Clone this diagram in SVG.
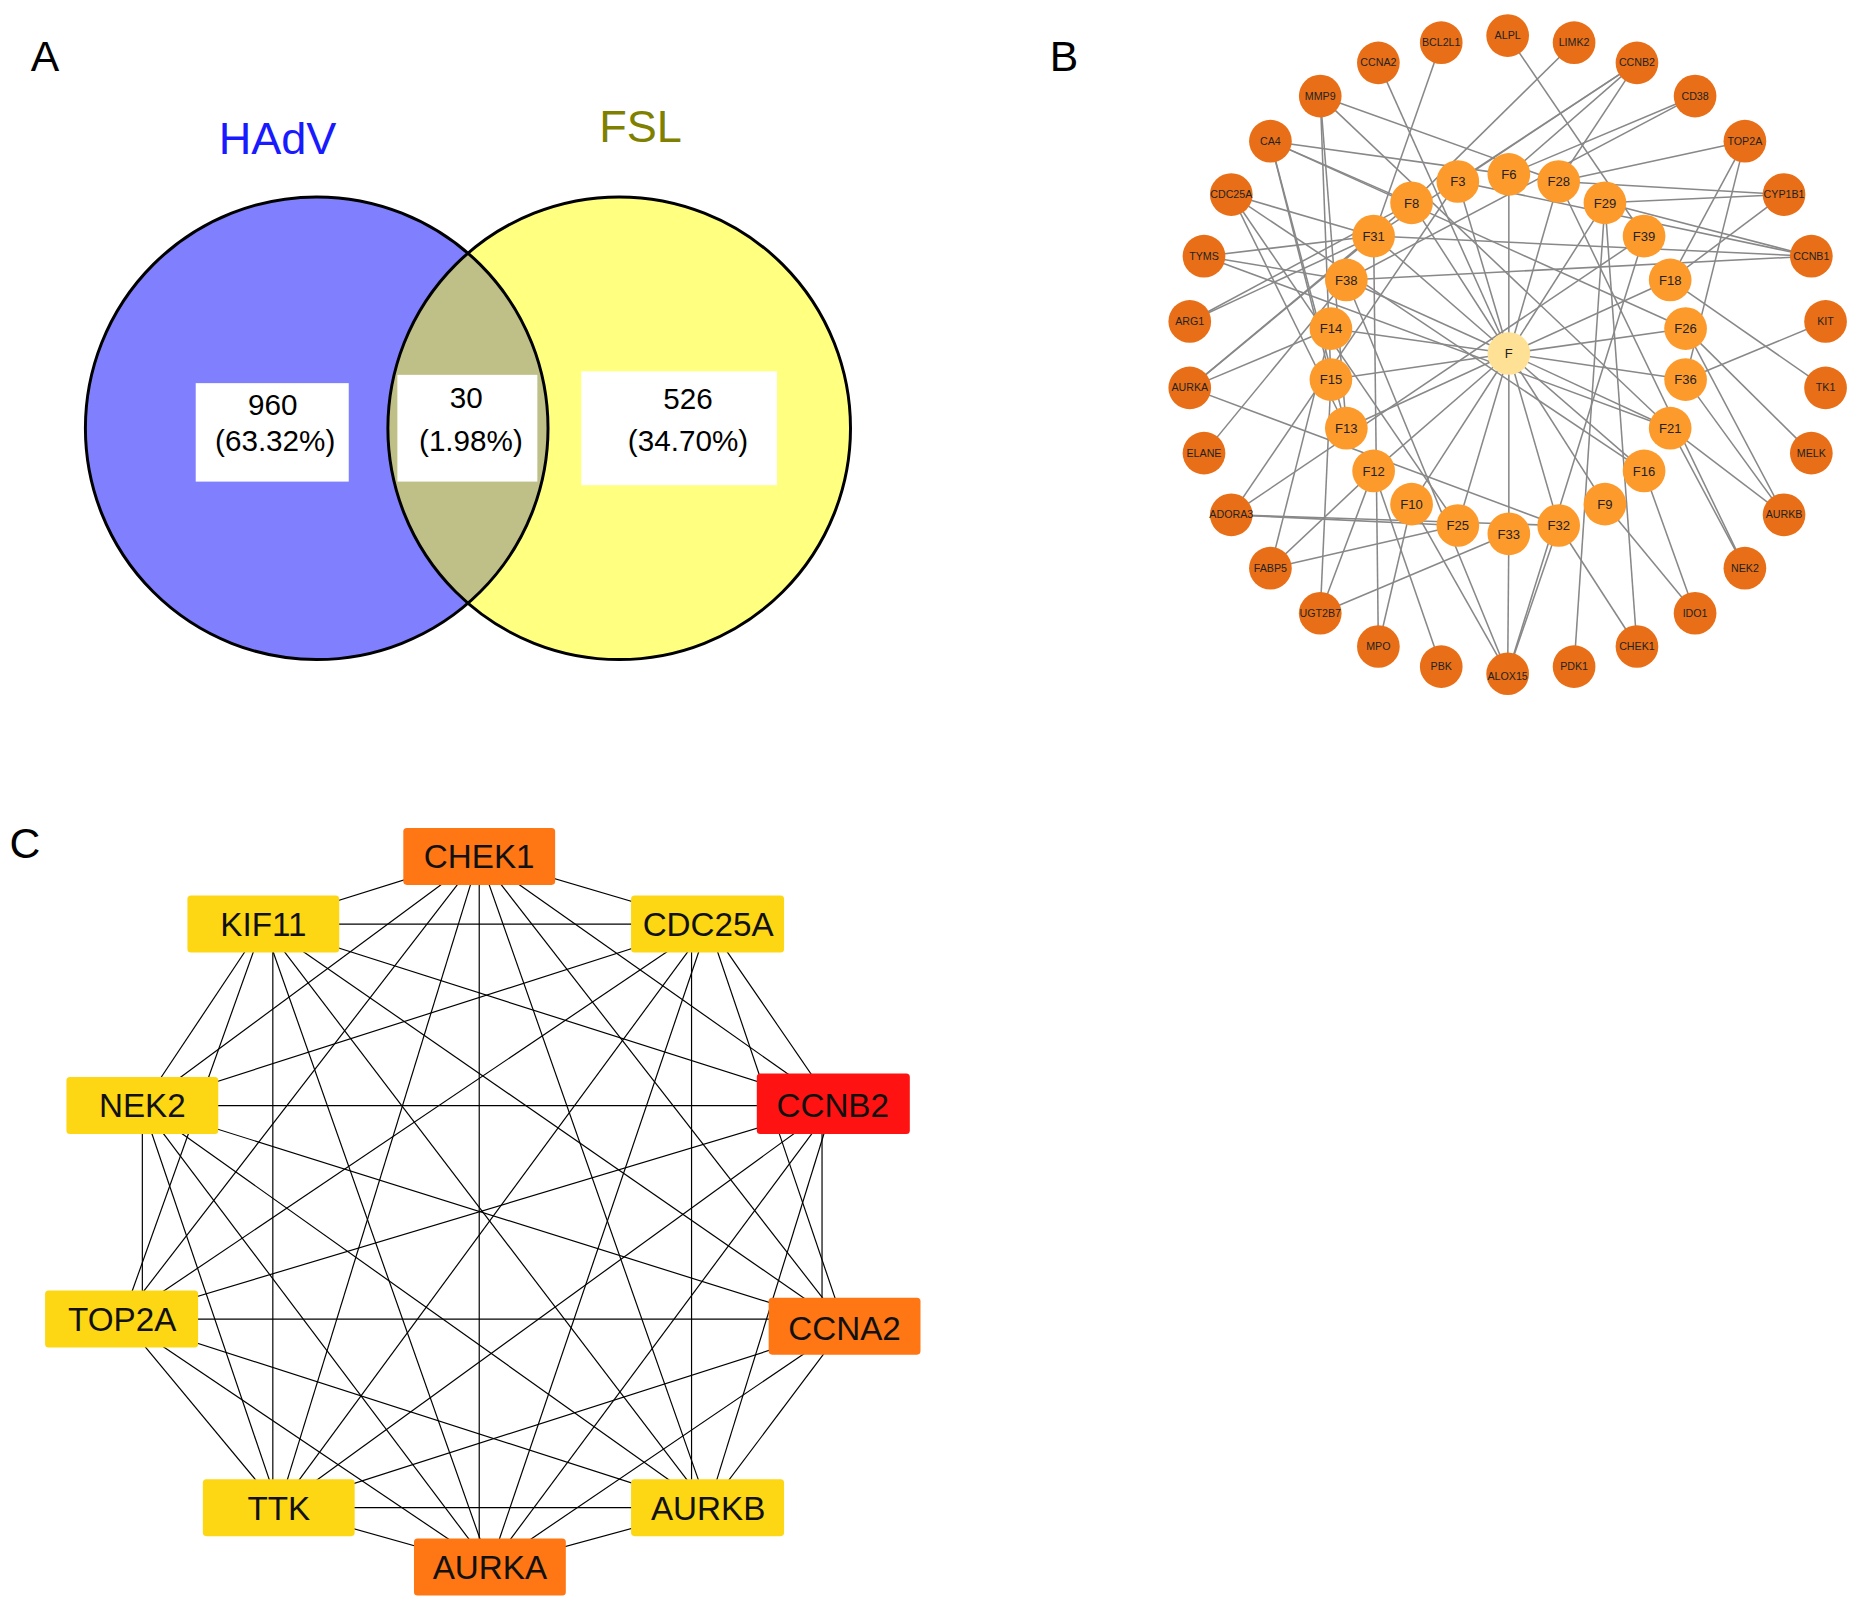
<svg xmlns="http://www.w3.org/2000/svg" width="1860" height="1608" viewBox="0 0 1860 1608">
<style>
text{font-family:"Liberation Sans",Arial,sans-serif}
.lbl{font-size:36px}
.bl line{stroke:#888;stroke-width:1.3}
.o circle{fill:#e86f17}
.i circle{fill:#fd9a2c}
.o text{font-size:9px;text-anchor:middle;fill:#222}
.i text{font-size:11px;text-anchor:middle;fill:#222}
.cl line{stroke:#000;stroke-width:1}
.bx text{font-size:28px;text-anchor:middle;fill:#111}
.y{fill:#fdd714}.r{fill:#ff1212}.or{fill:#ff7614}
</style>
<defs><clipPath id="cr"><circle cx="522" cy="361" r="195"/></clipPath></defs>
<rect width="1860" height="1608" fill="#fff"/>
<g transform="scale(1.1862)">
<g id="venn">
<circle cx="267" cy="361" r="195" fill="#8080ff"/>
<circle cx="522" cy="361" r="195" fill="#ffff80"/>
<circle cx="267" cy="361" r="195" fill="#bfbf88" clip-path="url(#cr)"/>
<circle cx="267" cy="361" r="195" fill="none" stroke="#000" stroke-width="2.5"/>
<circle cx="522" cy="361" r="195" fill="none" stroke="#000" stroke-width="2.5"/>
<text x="234" y="130" font-size="38" fill="#1a1aff" text-anchor="middle">HAdV</text>
<text x="540" y="120" font-size="38" fill="#808000" text-anchor="middle">FSL</text>
<rect x="165" y="323" width="129" height="83" fill="#fff"/>
<text x="230" y="350" font-size="25" text-anchor="middle">960</text>
<text x="232" y="380" font-size="25" text-anchor="middle">(63.32%)</text>
<rect x="335" y="316" width="118" height="90" fill="#fff"/>
<text x="393" y="344" font-size="25" text-anchor="middle">30</text>
<text x="397" y="380" font-size="25" text-anchor="middle">(1.98%)</text>
<rect x="490" y="313" width="165" height="96" fill="#fff"/>
<text x="580" y="345" font-size="25" text-anchor="middle">526</text>
<text x="580" y="380" font-size="25" text-anchor="middle">(34.70%)</text>
</g>
<text class="lbl" x="26" y="60">A</text>
<text class="lbl" x="885" y="60">B</text>
<text class="lbl" x="8" y="723">C</text>
<g id="b-edges" class="bl">
<line x1="1272" y1="298" x2="1229" y2="153"/><line x1="1272" y1="298" x2="1272" y2="147"/><line x1="1272" y1="298" x2="1314" y2="153"/><line x1="1272" y1="298" x2="1353" y2="171"/><line x1="1272" y1="298" x2="1408" y2="236"/><line x1="1272" y1="298" x2="1421" y2="277"/><line x1="1272" y1="298" x2="1421" y2="320"/><line x1="1272" y1="298" x2="1408" y2="361"/><line x1="1272" y1="298" x2="1386" y2="397"/><line x1="1272" y1="298" x2="1353" y2="425"/><line x1="1272" y1="298" x2="1314" y2="443"/><line x1="1272" y1="298" x2="1272" y2="450"/><line x1="1272" y1="298" x2="1229" y2="443"/><line x1="1272" y1="298" x2="1190" y2="425"/><line x1="1272" y1="298" x2="1158" y2="397"/><line x1="1272" y1="298" x2="1135" y2="361"/><line x1="1272" y1="298" x2="1122" y2="320"/><line x1="1272" y1="298" x2="1122" y2="277"/><line x1="1272" y1="298" x2="1135" y2="236"/><line x1="1272" y1="298" x2="1158" y2="199"/><line x1="1272" y1="298" x2="1190" y2="171"/>
<line x1="1162" y1="53" x2="1272" y2="298"/><line x1="1215" y1="36" x2="1158" y2="199"/><line x1="1271" y1="30" x2="1386" y2="199"/><line x1="1327" y1="36" x2="1190" y2="171"/>
<line x1="1380" y1="53" x2="1229" y2="153"/><line x1="1380" y1="53" x2="1272" y2="147"/><line x1="1380" y1="53" x2="1158" y2="199"/><line x1="1380" y1="53" x2="1314" y2="153"/>
<line x1="1429" y1="81" x2="1272" y2="147"/><line x1="1429" y1="81" x2="1135" y2="236"/>
<line x1="1471" y1="119" x2="1314" y2="153"/><line x1="1471" y1="119" x2="1421" y2="320"/><line x1="1471" y1="119" x2="1408" y2="236"/>
<line x1="1504" y1="164" x2="1314" y2="153"/><line x1="1504" y1="164" x2="1353" y2="171"/><line x1="1504" y1="164" x2="1408" y2="236"/>
<line x1="1527" y1="216" x2="1353" y2="171"/><line x1="1527" y1="216" x2="1158" y2="199"/><line x1="1527" y1="216" x2="1135" y2="236"/><line x1="1527" y1="216" x2="1229" y2="153"/>
<line x1="1539" y1="271" x2="1421" y2="320"/><line x1="1539" y1="327" x2="1408" y2="236"/><line x1="1527" y1="382" x2="1421" y2="277"/>
<line x1="1504" y1="434" x2="1421" y2="320"/><line x1="1504" y1="434" x2="1421" y2="277"/><line x1="1504" y1="434" x2="1408" y2="361"/>
<line x1="1471" y1="479" x2="1408" y2="361"/><line x1="1471" y1="479" x2="1314" y2="153"/>
<line x1="1429" y1="517" x2="1353" y2="425"/><line x1="1429" y1="517" x2="1386" y2="397"/>
<line x1="1380" y1="545" x2="1353" y2="171"/><line x1="1380" y1="545" x2="1314" y2="443"/><line x1="1327" y1="562" x2="1353" y2="171"/>
<line x1="1271" y1="568" x2="1272" y2="450"/><line x1="1271" y1="568" x2="1190" y2="425"/><line x1="1271" y1="568" x2="1314" y2="443"/><line x1="1271" y1="568" x2="1135" y2="236"/><line x1="1271" y1="568" x2="1386" y2="199"/>
<line x1="1215" y1="562" x2="1158" y2="397"/><line x1="1162" y1="545" x2="1158" y2="199"/><line x1="1162" y1="545" x2="1190" y2="425"/>
<line x1="1113" y1="517" x2="1272" y2="450"/><line x1="1113" y1="517" x2="1122" y2="320"/><line x1="1113" y1="517" x2="1158" y2="397"/>
<line x1="1071" y1="479" x2="1229" y2="443"/><line x1="1071" y1="479" x2="1122" y2="277"/><line x1="1071" y1="479" x2="1158" y2="397"/>
<line x1="1038" y1="434" x2="1314" y2="443"/><line x1="1038" y1="434" x2="1229" y2="153"/><line x1="1038" y1="434" x2="1386" y2="199"/><line x1="1038" y1="434" x2="1229" y2="443"/>
<line x1="1015" y1="382" x2="1135" y2="236"/>
<line x1="1003" y1="327" x2="1190" y2="171"/><line x1="1003" y1="327" x2="1158" y2="199"/><line x1="1003" y1="327" x2="1122" y2="277"/><line x1="1003" y1="327" x2="1314" y2="443"/>
<line x1="1003" y1="271" x2="1190" y2="171"/><line x1="1003" y1="271" x2="1158" y2="199"/>
<line x1="1015" y1="216" x2="1158" y2="199"/><line x1="1015" y1="216" x2="1135" y2="236"/><line x1="1015" y1="216" x2="1408" y2="361"/>
<line x1="1038" y1="164" x2="1386" y2="397"/><line x1="1038" y1="164" x2="1229" y2="443"/><line x1="1038" y1="164" x2="1135" y2="361"/><line x1="1038" y1="164" x2="1158" y2="199"/>
<line x1="1071" y1="119" x2="1272" y2="147"/><line x1="1071" y1="119" x2="1190" y2="171"/><line x1="1071" y1="119" x2="1135" y2="361"/><line x1="1071" y1="119" x2="1122" y2="320"/><line x1="1071" y1="119" x2="1421" y2="277"/>
<line x1="1113" y1="81" x2="1408" y2="361"/><line x1="1113" y1="81" x2="1122" y2="320"/><line x1="1113" y1="81" x2="1314" y2="153"/><line x1="1113" y1="81" x2="1135" y2="361"/>
</g>
<g id="b-outer" class="o">
<g id="n-ALPL"><circle cx="1271" cy="30" r="18"/><text x="1271" y="33">ALPL</text></g>
<g id="n-LIMK2"><circle cx="1327" cy="36" r="18"/><text x="1327" y="39">LIMK2</text></g>
<g id="n-CCNB2"><circle cx="1380" cy="53" r="18"/><text x="1380" y="56">CCNB2</text></g>
<g id="n-CD38"><circle cx="1429" cy="81" r="18"/><text x="1429" y="84">CD38</text></g>
<g id="n-TOP2A"><circle cx="1471" cy="119" r="18"/><text x="1471" y="122">TOP2A</text></g>
<g id="n-CYP1B1"><circle cx="1504" cy="164" r="18"/><text x="1504" y="167">CYP1B1</text></g>
<g id="n-CCNB1"><circle cx="1527" cy="216" r="18"/><text x="1527" y="219">CCNB1</text></g>
<g id="n-KIT"><circle cx="1539" cy="271" r="18"/><text x="1539" y="274">KIT</text></g>
<g id="n-TK1"><circle cx="1539" cy="327" r="18"/><text x="1539" y="330">TK1</text></g>
<g id="n-MELK"><circle cx="1527" cy="382" r="18"/><text x="1527" y="385">MELK</text></g>
<g id="n-AURKB"><circle cx="1504" cy="434" r="18"/><text x="1504" y="437">AURKB</text></g>
<g id="n-NEK2"><circle cx="1471" cy="479" r="18"/><text x="1471" y="482">NEK2</text></g>
<g id="n-IDO1"><circle cx="1429" cy="517" r="18"/><text x="1429" y="520">IDO1</text></g>
<g id="n-CHEK1"><circle cx="1380" cy="545" r="18"/><text x="1380" y="548">CHEK1</text></g>
<g id="n-PDK1"><circle cx="1327" cy="562" r="18"/><text x="1327" y="565">PDK1</text></g>
<g id="n-ALOX15"><circle cx="1271" cy="568" r="18"/><text x="1271" y="573">ALOX15</text></g>
<g id="n-PBK"><circle cx="1215" cy="562" r="18"/><text x="1215" y="565">PBK</text></g>
<g id="n-MPO"><circle cx="1162" cy="545" r="18"/><text x="1162" y="548">MPO</text></g>
<g id="n-UGT2B7"><circle cx="1113" cy="517" r="18"/><text x="1113" y="520">UGT2B7</text></g>
<g id="n-FABP5"><circle cx="1071" cy="479" r="18"/><text x="1071" y="482">FABP5</text></g>
<g id="n-ADORA3"><circle cx="1038" cy="434" r="18"/><text x="1038" y="437">ADORA3</text></g>
<g id="n-ELANE"><circle cx="1015" cy="382" r="18"/><text x="1015" y="385">ELANE</text></g>
<g id="n-AURKA"><circle cx="1003" cy="327" r="18"/><text x="1003" y="330">AURKA</text></g>
<g id="n-ARG1"><circle cx="1003" cy="271" r="18"/><text x="1003" y="274">ARG1</text></g>
<g id="n-TYMS"><circle cx="1015" cy="216" r="18"/><text x="1015" y="219">TYMS</text></g>
<g id="n-CDC25A"><circle cx="1038" cy="164" r="18"/><text x="1038" y="167">CDC25A</text></g>
<g id="n-CA4"><circle cx="1071" cy="119" r="18"/><text x="1071" y="122">CA4</text></g>
<g id="n-MMP9"><circle cx="1113" cy="81" r="18"/><text x="1113" y="84">MMP9</text></g>
<g id="n-CCNA2"><circle cx="1162" cy="53" r="18"/><text x="1162" y="56">CCNA2</text></g>
<g id="n-BCL2L1"><circle cx="1215" cy="36" r="18"/><text x="1215" y="39">BCL2L1</text></g>
</g>
<g id="b-inner" class="i">
<g id="n-F3"><circle cx="1229" cy="153" r="18"/><text x="1229" y="157">F3</text></g>
<g id="n-F6"><circle cx="1272" cy="147" r="18"/><text x="1272" y="151">F6</text></g>
<g id="n-F28"><circle cx="1314" cy="153" r="18"/><text x="1314" y="157">F28</text></g>
<g id="n-F29"><circle cx="1353" cy="171" r="18"/><text x="1353" y="175">F29</text></g>
<g id="n-F39"><circle cx="1386" cy="199" r="18"/><text x="1386" y="203">F39</text></g>
<g id="n-F18"><circle cx="1408" cy="236" r="18"/><text x="1408" y="240">F18</text></g>
<g id="n-F26"><circle cx="1421" cy="277" r="18"/><text x="1421" y="281">F26</text></g>
<g id="n-F36"><circle cx="1421" cy="320" r="18"/><text x="1421" y="324">F36</text></g>
<g id="n-F21"><circle cx="1408" cy="361" r="18"/><text x="1408" y="365">F21</text></g>
<g id="n-F16"><circle cx="1386" cy="397" r="18"/><text x="1386" y="401">F16</text></g>
<g id="n-F9"><circle cx="1353" cy="425" r="18"/><text x="1353" y="429">F9</text></g>
<g id="n-F32"><circle cx="1314" cy="443" r="18"/><text x="1314" y="447">F32</text></g>
<g id="n-F33"><circle cx="1272" cy="450" r="18"/><text x="1272" y="454">F33</text></g>
<g id="n-F25"><circle cx="1229" cy="443" r="18"/><text x="1229" y="447">F25</text></g>
<g id="n-F10"><circle cx="1190" cy="425" r="18"/><text x="1190" y="429">F10</text></g>
<g id="n-F12"><circle cx="1158" cy="397" r="18"/><text x="1158" y="401">F12</text></g>
<g id="n-F13"><circle cx="1135" cy="361" r="18"/><text x="1135" y="365">F13</text></g>
<g id="n-F15"><circle cx="1122" cy="320" r="18"/><text x="1122" y="324">F15</text></g>
<g id="n-F14"><circle cx="1122" cy="277" r="18"/><text x="1122" y="281">F14</text></g>
<g id="n-F38"><circle cx="1135" cy="236" r="18"/><text x="1135" y="240">F38</text></g>
<g id="n-F31"><circle cx="1158" cy="199" r="18"/><text x="1158" y="203">F31</text></g>
<g id="n-F8"><circle cx="1190" cy="171" r="18"/><text x="1190" y="175">F8</text></g>
<g id="n-F"><circle cx="1272" cy="298" r="18" style="fill:#ffe196"/><text x="1272" y="302">F</text></g>
</g>
<g id="c-edges" class="cl">
<line x1="404" y1="722" x2="222" y2="779"/><line x1="404" y1="722" x2="597" y2="779"/><line x1="404" y1="722" x2="120" y2="932"/><line x1="404" y1="722" x2="702" y2="932"/><line x1="404" y1="722" x2="103" y2="1112"/><line x1="404" y1="722" x2="712" y2="1118"/><line x1="404" y1="722" x2="235" y2="1271"/><line x1="404" y1="722" x2="597" y2="1271"/><line x1="404" y1="722" x2="404" y2="1321"/>
<line x1="222" y1="779" x2="597" y2="779"/><line x1="222" y1="779" x2="120" y2="932"/><line x1="222" y1="779" x2="702" y2="932"/><line x1="222" y1="779" x2="103" y2="1112"/><line x1="222" y1="779" x2="712" y2="1118"/><line x1="230" y1="779" x2="230" y2="1271"/><line x1="222" y1="779" x2="597" y2="1271"/><line x1="222" y1="779" x2="413" y2="1321"/>
<line x1="597" y1="779" x2="120" y2="932"/><line x1="597" y1="779" x2="702" y2="932"/><line x1="597" y1="779" x2="103" y2="1112"/><line x1="597" y1="779" x2="712" y2="1118"/><line x1="597" y1="779" x2="235" y2="1271"/><line x1="583" y1="779" x2="583" y2="1271"/><line x1="597" y1="779" x2="413" y2="1321"/>
<line x1="120" y1="932" x2="702" y2="932"/><line x1="120" y1="932" x2="120" y2="1112"/><line x1="120" y1="932" x2="712" y2="1118"/><line x1="120" y1="932" x2="235" y2="1271"/><line x1="120" y1="932" x2="597" y2="1271"/><line x1="120" y1="932" x2="413" y2="1321"/>
<line x1="702" y1="932" x2="103" y2="1112"/><line x1="693" y1="932" x2="693" y2="1118"/><line x1="702" y1="932" x2="235" y2="1271"/><line x1="702" y1="932" x2="597" y2="1271"/><line x1="702" y1="932" x2="413" y2="1321"/>
<line x1="103" y1="1112" x2="712" y2="1112"/><line x1="103" y1="1112" x2="235" y2="1271"/><line x1="103" y1="1112" x2="597" y2="1271"/><line x1="103" y1="1112" x2="413" y2="1321"/>
<line x1="712" y1="1118" x2="235" y2="1271"/><line x1="712" y1="1118" x2="597" y2="1271"/><line x1="712" y1="1118" x2="413" y2="1321"/>
<line x1="235" y1="1271" x2="597" y2="1271"/><line x1="235" y1="1271" x2="413" y2="1321"/><line x1="597" y1="1271" x2="413" y2="1321"/>
</g>
<g class="bx">
<g id="c-CHEK1"><rect class="or" x="340" y="698" width="128" height="48" rx="3"/><text x="404" y="732">CHEK1</text></g>
<g id="c-KIF11"><rect class="y" x="158" y="755" width="128" height="48" rx="3"/><text x="222" y="789">KIF11</text></g>
<g id="c-CDC25A"><rect class="y" x="532" y="755" width="129" height="48" rx="3"/><text x="597" y="789">CDC25A</text></g>
<g id="c-NEK2"><rect class="y" x="56" y="908" width="128" height="48" rx="3"/><text x="120" y="942">NEK2</text></g>
<g id="c-CCNB2"><rect class="r" x="638" y="905" width="129" height="51" rx="3"/><text x="702" y="942">CCNB2</text></g>
<g id="c-TOP2A"><rect class="y" x="38" y="1088" width="129" height="48" rx="3"/><text x="103" y="1122">TOP2A</text></g>
<g id="c-CCNA2"><rect class="or" x="648" y="1094" width="128" height="48" rx="3"/><text x="712" y="1130">CCNA2</text></g>
<g id="c-TTK"><rect class="y" x="171" y="1247" width="128" height="48" rx="3"/><text x="235" y="1281">TTK</text></g>
<g id="c-AURKB"><rect class="y" x="532" y="1247" width="129" height="48" rx="3"/><text x="597" y="1281">AURKB</text></g>
<g id="c-AURKA"><rect class="or" x="349" y="1297" width="128" height="48" rx="3"/><text x="413" y="1331">AURKA</text></g>
</g>
</g>
</svg>
